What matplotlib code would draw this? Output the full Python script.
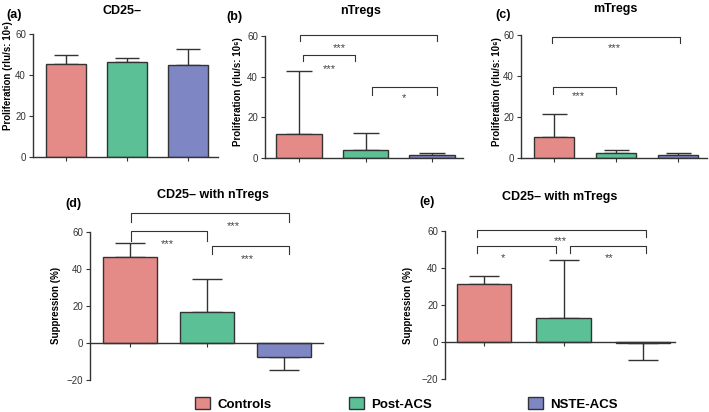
import numpy as np
import matplotlib
matplotlib.use('Agg')
import matplotlib.pyplot as plt
from matplotlib.patches import Patch

plt.rcParams['font.family'] = ['Liberation Sans', 'DejaVu Sans']

# ─────────────────────────────────────────────────────────────
# Data
# ─────────────────────────────────────────────────────────────
groups = ['Controls', 'Post-ACS', 'NSTE-ACS']
colors = ['#E58B87', '#5CC096', '#7F86C4']

cd25_mean = [45.5, 46.3, 44.9]
cd25_sd = [4.4, 2.1, 7.6]

ntreg_mean = [11.9, 4.0, 1.7]
ntreg_sd = [31.2, 8.5, 0.6]

mtreg_mean = [10.5, 2.7, 1.4]
mtreg_sd = [10.9, 1.3, 1.0]

supp_n_mean = [46.3, 16.9, -7.3]
supp_n_sd = [7.6, 17.7, 7.2]

supp_m_mean = [31.4, 12.7, -0.9]
supp_m_sd = [4.4, 31.6, 9.0]

# significance brackets: (x start, x end, height, tip, label, label x, label y)
ntreg_sig = [(0.02, 2.08, 60.5, 3.0, '***', 0.60, 56.0),
             (0.06, 0.84, 50.9, 3.3, '***', 0.45, 46.0),
             (1.10, 2.08, 34.9, 3.8, '*', 1.58, 31.7)]
mtreg_sig = [(-0.04, 2.04, 59.2, 3.0, '***', 0.97, 55.5),
             (-0.01, 1.00, 34.5, 3.2, '***', 0.39, 32.4)]
supp_n_sig = [(0.01, 2.06, 70.4, 4.8, '***', 1.34, 65.2),
              (0.01, 1.00, 60.7, 5.4, '***', 0.48, 55.7),
              (1.07, 2.06, 52.6, 4.5, '***', 1.52, 47.6)]
supp_m_sig = [(-0.09, 2.04, 60.5, 3.9, '***', 0.96, 56.9),
              (-0.09, 0.90, 51.9, 3.7, '*', 0.24, 47.5),
              (1.08, 2.04, 51.9, 3.7, '**', 1.58, 47.5)]

W, H = 709, 412
EDGE = '#333333'

fig = plt.figure(figsize=(W / 100, H / 100), dpi=100)


def panel(left, right, c0, step, zero_px, ppu, ylim, bounds):
    # place axes so that data units land on the reference pixel grid
    bot = zero_px - ylim[0] * ppu
    top = zero_px - ylim[1] * ppu
    ax = fig.add_axes([left / W, 1 - bot / H, (right - left) / W, (bot - top) / H])
    ax.set_xlim((left - c0) / step, (right - c0) / step)
    ax.set_ylim(*ylim)
    for s in ['top', 'right']:
        ax.spines[s].set_visible(False)
    for s in ['left', 'bottom']:
        ax.spines[s].set_color(EDGE)
        ax.spines[s].set_linewidth(1.0)
    ax.spines['left'].set_bounds(*bounds)
    ax.spines['bottom'].set_position(('data', 0))
    ax.set_yticks(np.arange(bounds[0], bounds[1] + 1, 20))
    ax.tick_params(axis='both', direction='out', length=3, width=0.8,
                   colors=EDGE, labelsize=7, pad=2)
    ax.tick_params(axis='x', labelbottom=False)
    ax.set_xticks(range(3))
    ax.patch.set_alpha(0)
    return ax


def draw(ax, mean, sd, width, cap, sig=()):
    x = np.arange(len(mean))
    mean = np.array(mean)
    sd = np.array(sd)
    upper = np.where(mean >= 0, sd, 0)
    lower = np.where(mean < 0, sd, 0)
    ax.errorbar(x, mean, yerr=[lower, upper], fmt='none', ecolor=EDGE,
                elinewidth=1.0, capsize=cap, capthick=1.0, zorder=1)
    ax.bar(x, mean, width, color=colors, edgecolor=EDGE, linewidth=1.0, zorder=2)
    for x1, x2, h, tip, lab, lx, ly in sig:
        ax.plot([x1, x1, x2, x2], [h - tip, h, h, h - tip], color=EDGE,
                lw=0.8, clip_on=False, zorder=3)
        ax.annotate(lab, (lx, ly), xytext=(0, -3), textcoords='offset points',
                    ha='center', va='center', fontsize=8, color='#444444',
                    annotation_clip=False)


ax_a = panel(33, 218, 66, 61, 157, 2.05, (0, 61), (0, 60))
draw(ax_a, cd25_mean, cd25_sd, 0.67, 8.5)

ax_b = panel(265, 463, 299, 66.5, 158, 2.03, (0, 61), (0, 60))
draw(ax_b, ntreg_mean, ntreg_sd, 0.68, 9.5, ntreg_sig)

ax_c = panel(521, 707, 554, 62, 158.3, 2.055, (0, 61), (0, 60))
draw(ax_c, mtreg_mean, mtreg_sd, 0.65, 9, mtreg_sig)

ax_d = panel(90, 323, 130, 77, 343, 1.85, (-21, 61), (-20, 60))
draw(ax_d, supp_n_mean, supp_n_sd, 0.70, 10.5, supp_n_sig)

ax_e = panel(445, 675, 484, 79.5, 341.7, 1.845, (-21, 61), (-20, 60))
draw(ax_e, supp_m_mean, supp_m_sd, 0.68, 10.5, supp_m_sig)


def ftext(x, y, s, **kw):
    fig.text(x / W, 1 - y / H, s, ha='center', va='center', fontweight='bold', **kw)


# titles and panel letters
ftext(122, 11, 'CD25–', fontsize=9)
ftext(361, 11, 'nTregs', fontsize=9)
ftext(615, 9, 'mTregs', fontsize=9)
ftext(213, 195, 'CD25– with nTregs', fontsize=9)
ftext(560, 197, 'CD25– with mTregs', fontsize=9)
ftext(14, 15, '(a)', fontsize=9)
ftext(234, 17, '(b)', fontsize=9)
ftext(503, 15, '(c)', fontsize=9)
ftext(73, 204, '(d)', fontsize=9)
ftext(427, 202, '(e)', fontsize=9)

# y labels
prolif = 'Proliferation (rlu/s: 10⁶)'
ftext(8, 76, prolif, fontsize=7, rotation=90)
ftext(238, 92, prolif, fontsize=7, rotation=90)
ftext(497, 92, prolif, fontsize=7, rotation=90)
ftext(56, 305, 'Suppression (%)', fontsize=7, rotation=90)
ftext(408, 305, 'Suppression (%)', fontsize=7, rotation=90)

# legend, one entry per group
leg_x = [195, 349, 528]
for g, c, lx in zip(groups, colors, leg_x):
    fig.legend(handles=[Patch(facecolor=c, edgecolor=EDGE, linewidth=1.0)],
               labels=[g], loc='center left', bbox_to_anchor=(lx / W, 1 - 404 / H),
               frameon=False, handlelength=1.1, handleheight=1.0,
               handletextpad=0.6, borderaxespad=0, borderpad=0,
               prop={'weight': 'bold', 'size': 9.5})

fig.savefig('out.png', dpi=100)
